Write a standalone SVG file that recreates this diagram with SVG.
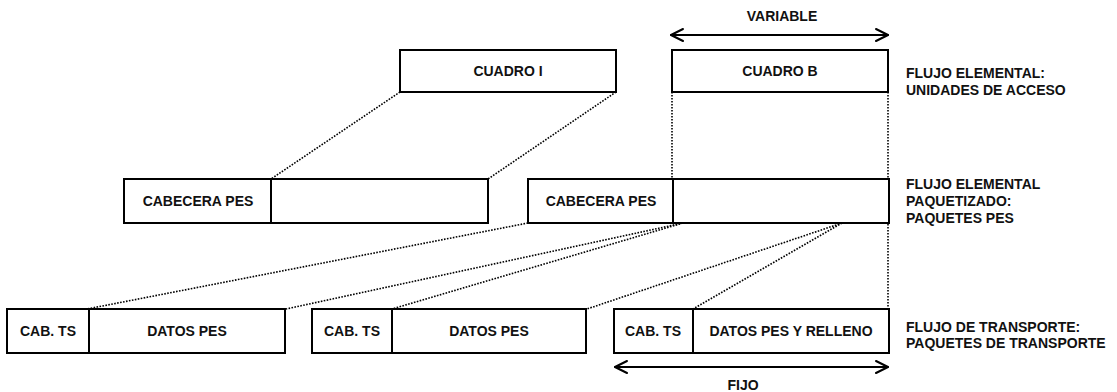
<svg xmlns="http://www.w3.org/2000/svg" width="1117" height="392" viewBox="0 0 1117 392">
<style>
.box{fill:#fff;stroke:#000;stroke-width:2}
.div{stroke:#000;stroke-width:2}
.t{font-family:"Liberation Sans",Arial,sans-serif;font-size:14px;font-weight:bold;fill:#111}
.c{text-anchor:middle}
.dot{fill:none;stroke:#000;stroke-width:1.6;stroke-dasharray:1.6 1.4}
.arr{fill:none;stroke:#000;stroke-width:2;stroke-linecap:round;stroke-linejoin:round}
</style>
<rect width="1117" height="392" fill="#fff"/>
<g id="connectors">
<line class="dot" x1="400" y1="92" x2="271" y2="179"/>
<line class="dot" x1="616" y1="92" x2="488" y2="179"/>
<line class="dot" x1="672" y1="92" x2="672" y2="179"/>
<line class="dot" x1="888" y1="92" x2="888" y2="309"/>
<line class="dot" x1="528" y1="223" x2="87" y2="309"/>
<line class="dot" x1="683" y1="223" x2="286" y2="309"/>
<line class="dot" x1="683" y1="223" x2="392" y2="309"/>
<line class="dot" x1="842" y1="223" x2="587" y2="309"/>
<line class="dot" x1="842" y1="223" x2="693" y2="309"/>
</g>
<g id="variable-arrow">
<line class="arr" x1="671" y1="35" x2="888" y2="35"/>
<polyline class="arr" points="683,29 671,35 683,41"/>
<polyline class="arr" points="876,29 888,35 876,41"/>
<text class="t c" x="782" y="21">VARIABLE</text>
</g>
<g id="fijo-arrow">
<line class="arr" x1="615" y1="367" x2="888" y2="367"/>
<polyline class="arr" points="627,361 615,367 627,373"/>
<polyline class="arr" points="876,361 888,367 876,373"/>
<text class="t c" x="743" y="390">FIJO</text>
</g>
<g id="cuadro-i">
<rect class="box" x="400" y="50" width="216" height="42"/>
<text class="t c" x="508" y="76">CUADRO I</text>
</g>
<g id="cuadro-b">
<rect class="box" x="672" y="50" width="216" height="42"/>
<text class="t c" x="780" y="76">CUADRO B</text>
</g>
<g id="pes-1">
<rect class="box" x="124" y="179" width="364" height="44"/>
<line class="div" x1="271" y1="179" x2="271" y2="223"/>
<text class="t c" x="198" y="206">CABECERA PES</text>
</g>
<g id="pes-2">
<rect class="box" x="528" y="179" width="361" height="44"/>
<line class="div" x1="673" y1="179" x2="673" y2="223"/>
<text class="t c" x="601" y="206">CABECERA PES</text>
</g>
<g id="ts-1">
<rect class="box" x="7" y="309" width="278" height="44"/>
<line class="div" x1="89" y1="309" x2="89" y2="353"/>
<text class="t c" x="48" y="336">CAB. TS</text>
<text class="t c" x="187" y="336">DATOS PES</text>
</g>
<g id="ts-2">
<rect class="box" x="312" y="309" width="274" height="44"/>
<line class="div" x1="392" y1="309" x2="392" y2="353"/>
<text class="t c" x="352" y="336">CAB. TS</text>
<text class="t c" x="489" y="336">DATOS PES</text>
</g>
<g id="ts-3">
<rect class="box" x="614" y="309" width="275" height="44"/>
<line class="div" x1="693" y1="309" x2="693" y2="353"/>
<text class="t c" x="653" y="336">CAB. TS</text>
<text class="t c" x="791" y="336">DATOS PES Y RELLENO</text>
</g>
<g id="labels">
<text class="t" x="906" y="78">FLUJO ELEMENTAL:</text>
<text class="t" x="906" y="95">UNIDADES DE ACCESO</text>
<text class="t" x="906" y="189">FLUJO ELEMENTAL</text>
<text class="t" x="906" y="206">PAQUETIZADO:</text>
<text class="t" x="906" y="223">PAQUETES PES</text>
<text class="t" x="906" y="332">FLUJO DE TRANSPORTE:</text>
<text class="t" x="906" y="348">PAQUETES DE TRANSPORTE</text>
</g>
</svg>
